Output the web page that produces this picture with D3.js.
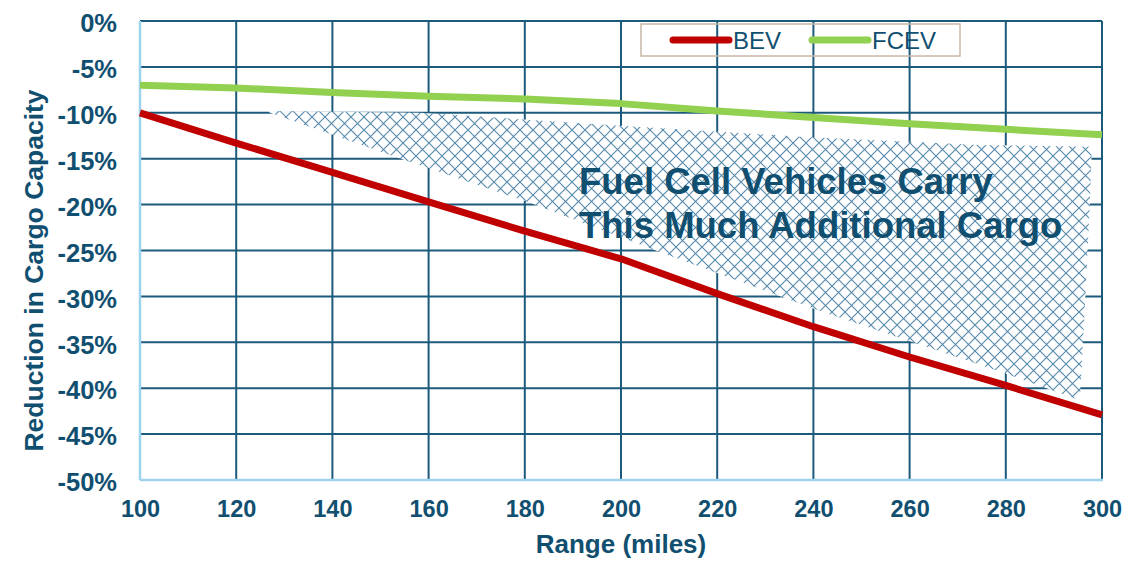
<!DOCTYPE html>
<html>
<head>
<meta charset="utf-8">
<script src="https://cdn.jsdelivr.net/npm/d3@7"></script>
<style>
  html, body { margin: 0; padding: 0; background: #fff; }
  svg { display: block; font-family: "Liberation Sans", Arial, sans-serif; }
</style>
</head>
<body>
<svg id="chart" width="1130" height="561"></svg>
<script>
// Range in miles
const ranges = [100, 120, 140, 160, 180, 200, 220, 240, 260, 280, 300];
// Reduction in cargo capacity (%) for each range
const bevValues  = [-10.0, -13.3, -16.5, -19.7, -22.9, -25.9, -29.7, -33.3, -36.6, -39.7, -42.9];
const fcevValues = [-7.0, -7.3, -7.8, -8.2, -8.5, -9.0, -9.8, -10.5, -11.2, -11.8, -12.4];

const xTicks = [100, 120, 140, 160, 180, 200, 220, 240, 260, 280, 300];
const yTicks = [0, -5, -10, -15, -20, -25, -30, -35, -40, -45, -50];

// Shaded "additional cargo" region, as [range, percent] vertices
const gapRegion = [
  [126.6, -9.8], [158.2, -10.0], [199.8, -11.4], [237.2, -12.6], [274.6, -13.5], [297.9, -13.7],
  [297.5, -19.5], [296.5, -30.4], [295.4, -41.3],
  [279.4, -38.3], [242.0, -31.7], [206.7, -24.9], [181.1, -19.8], [154.7, -15.1], [127.0, -10.0]
];
const gapLabel = ["Fuel Cell Vehicles Carry", "This Much Additional Cargo"];

const series = [
  { name: "BEV",  values: bevValues,  color: "#c00000" },
  { name: "FCEV", values: fcevValues, color: "#92d050" }
];

const svg = d3.select("#chart");
const m = { left: 140, right: 1102, top: 21, bottom: 480 };
const textColor = "#114f70";
const gridColor = "#1c5a7b";

const x = d3.scaleLinear().domain([100, 300]).range([m.left, m.right]);
const y = d3.scaleLinear().domain([0, -50]).range([m.top, m.bottom]);

// Diamond lattice fill
const defs = svg.append("defs");
const P = 13;
const pat = defs.append("pattern")
  .attr("id", "lattice")
  .attr("patternUnits", "userSpaceOnUse")
  .attr("width", P).attr("height", P);
pat.append("rect").attr("width", P).attr("height", P).attr("fill", "#fff");
pat.append("path")
  .attr("d", `M0,0L${P},${P}M${P},0L0,${P}`)
  .attr("stroke", "#5489aa").attr("stroke-width", 1.1).attr("fill", "none");

// Gridlines
const grid = svg.append("g");
grid.selectAll("line.h").data(yTicks.slice(0, -1)).join("line")
  .attr("x1", m.left).attr("x2", m.right)
  .attr("y1", d => y(d)).attr("y2", d => y(d))
  .attr("stroke", gridColor).attr("stroke-width", 2);
grid.selectAll("line.v").data(xTicks.slice(1)).join("line")
  .attr("x1", d => x(d)).attr("x2", d => x(d))
  .attr("y1", m.top).attr("y2", m.bottom)
  .attr("stroke", gridColor).attr("stroke-width", 2);

// Axis lines
svg.append("line").attr("x1", m.left).attr("x2", m.left).attr("y1", m.top).attr("y2", m.bottom)
  .attr("stroke", "#9ed3ee").attr("stroke-width", 2.5);
svg.append("line").attr("x1", m.left).attr("x2", m.right + 1).attr("y1", m.bottom).attr("y2", m.bottom)
  .attr("stroke", "#9ed3ee").attr("stroke-width", 2.5);

// Shaded region
svg.append("path")
  .attr("d", d3.line().x(d => x(d[0])).y(d => y(d[1]))(gapRegion) + "Z")
  .attr("fill", "url(#lattice)");

// Region label
const lbl = svg.append("text")
  .attr("fill", textColor)
  .attr("font-weight", "bold")
  .attr("font-size", 36.5);
gapLabel.forEach((t, i) => {
  lbl.append("tspan").attr("x", 579).attr("y", 194 + i * 44).text(t);
});

// Series lines
const line = d3.line().x((d, i) => x(ranges[i])).y(d => y(d));
svg.selectAll("path.series").data(series).join("path")
  .attr("class", "series")
  .attr("d", d => line(d.values))
  .attr("fill", "none")
  .attr("stroke", d => d.color)
  .attr("stroke-width", 7)
  .attr("stroke-linejoin", "round");

// Axes tick labels
const xAxis = d3.axisBottom(x).tickValues(xTicks).tickSize(0).tickPadding(20).tickFormat(d3.format("d"));
const gx = svg.append("g").attr("transform", `translate(0,${m.bottom})`).call(xAxis);
gx.select(".domain").remove();
gx.selectAll("text")
  .attr("fill", textColor).attr("font-size", 23.5).attr("font-weight", "bold")
  .attr("font-family", "Liberation Sans, Arial, sans-serif");

const yAxis = d3.axisLeft(y).tickValues(yTicks).tickSize(0).tickPadding(23).tickFormat(d => d + "%");
const gy = svg.append("g").attr("transform", `translate(${m.left},0)`).call(yAxis);
gy.select(".domain").remove();
gy.selectAll("text")
  .attr("fill", textColor).attr("font-size", 25.5).attr("font-weight", "bold")
  .attr("dy", "0.42em")
  .attr("font-family", "Liberation Sans, Arial, sans-serif");

// Axis titles
svg.append("text")
  .attr("x", 621).attr("y", 553)
  .attr("text-anchor", "middle")
  .attr("fill", textColor).attr("font-weight", "bold").attr("font-size", 26)
  .text("Range (miles)");
svg.append("text")
  .attr("transform", `translate(43,${(m.top + m.bottom) / 2 + 20}) rotate(-90)`)
  .attr("text-anchor", "middle")
  .attr("fill", textColor).attr("font-weight", "bold").attr("font-size", 26.5)
  .text("Reduction in Cargo Capacity");

// Legend
const lg = svg.append("g").attr("transform", "translate(641,24)");
lg.append("rect").attr("width", 319).attr("height", 32)
  .attr("fill", "none").attr("stroke", "#c8b8a8").attr("stroke-width", 1.5);
const items = lg.selectAll("g.item").data(series).join("g")
  .attr("class", "item")
  .attr("transform", (d, i) => `translate(${32 + i * 139},0)`);
items.append("line")
  .attr("x1", 0).attr("x2", 56).attr("y1", 16).attr("y2", 16)
  .attr("stroke", d => d.color).attr("stroke-width", 7).attr("stroke-linecap", "round");
items.append("text")
  .attr("x", 60).attr("y", 25)
  .attr("fill", textColor).attr("font-size", 24)
  .text(d => d.name);
</script>
</body>
</html>
